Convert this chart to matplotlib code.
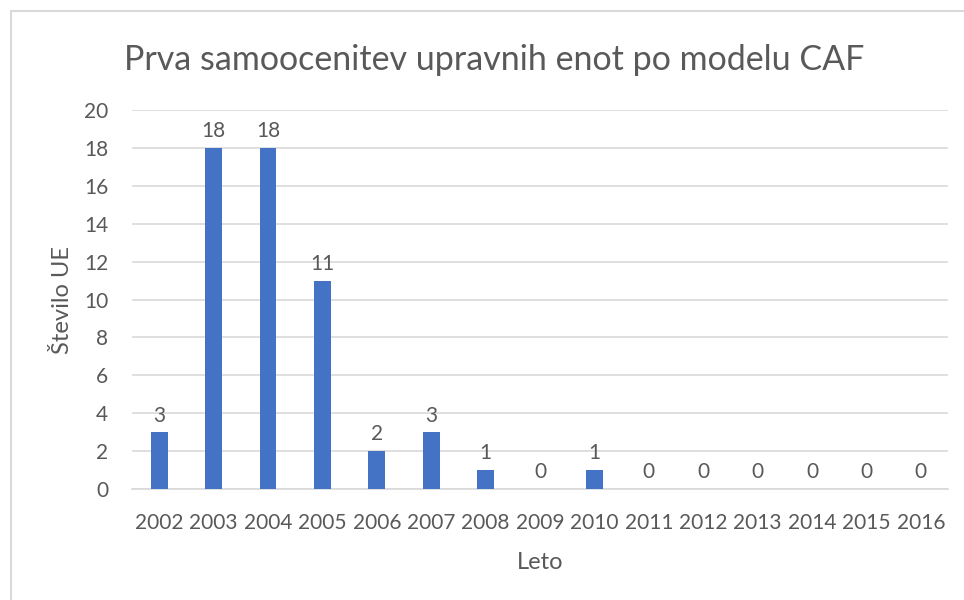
import matplotlib.pyplot as plt
import numpy as np
from matplotlib.patches import Rectangle

leta = ['2002', '2003', '2004', '2005', '2006', '2007', '2008', '2009',
        '2010', '2011', '2012', '2013', '2014', '2015', '2016']
stevilo_ue = [3, 18, 18, 11, 2, 3, 1, 0, 1, 0, 0, 0, 0, 0, 0]

plt.rcParams['font.family'] = ['Lato', 'DejaVu Sans']
siva = '#595959'

fig = plt.figure(figsize=(9.64, 6.0), dpi=100)
ax = fig.add_axes([132 / 964, 1 - 489 / 600, 816 / 964, 379 / 600])

x = np.arange(len(leta))
stolpci = ax.bar(x, stevilo_ue, width=0.31, color='#4472C4', zorder=3)

# oznake vrednosti nad stolpci
for xi, v in zip(x, stevilo_ue):
    ax.text(xi, v + 0.35, str(v), ha='center', va='bottom', fontsize=15, color=siva)

ax.set_xlim(-0.5, len(leta) - 0.5)
ax.set_ylim(0, 20)
ax.set_yticks(range(0, 21, 2))
ax.set_xticks(x)
ax.set_xticklabels(leta)
ax.grid(axis='y', color='#D9D9D9', linewidth=1.2, zorder=0)
ax.tick_params(length=0, labelsize=15, colors=siva)
ax.tick_params(axis='x', pad=17)
ax.tick_params(axis='y', pad=17)
for s in ['top', 'right', 'left']:
    ax.spines[s].set_visible(False)
ax.spines['bottom'].set_color('#D9D9D9')
ax.spines['bottom'].set_linewidth(1.2)

ax.set_ylabel('Število UE', fontsize=17, color=siva, labelpad=8)
ax.set_xlabel('Leto', fontsize=17, color=siva, labelpad=14)

fig.text(494 / 964, 1 - 60 / 600, 'Prva samoocenitev upravnih enot po modelu CAF',
         ha='center', va='center', fontsize=24.5, color=siva)

# okvir grafikona
fig.patches.append(Rectangle((11 / 964, -0.1), 1.2, 1 - 11 / 600 + 0.1,
                             transform=fig.transFigure, fill=False,
                             edgecolor='#D9D9D9', linewidth=1.5))

fig.savefig('out.png', dpi=100)
